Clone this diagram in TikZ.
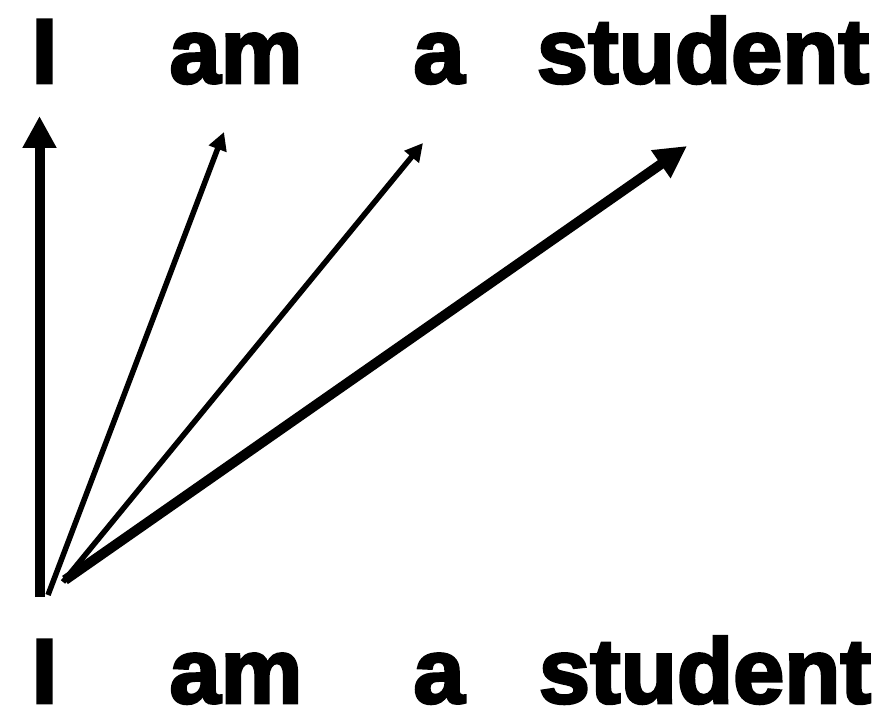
\documentclass[tikz,border=0pt]{standalone}
\usepackage{fontspec}
\setmainfont{Liberation Sans}
\newfontfamily\wordfont{Liberation Sans}[UprightFont=*-Bold,FakeBold=3]
\usetikzlibrary{arrows.meta}
\tikzset{
  word/.style={inner sep=0pt, anchor=base, font=\fontsize{92}{92}\wordfont},
  thickarrow/.style={line width=10pt, -{Triangle[length=32pt,width=32pt]}},
  thinarrow/.style={line width=5.5pt, -{Triangle[length=18pt,width=18pt]}}
}
\begin{document}
\begin{tikzpicture}[x=1pt,y=-1pt]
\useasboundingbox (0,0) rectangle (892,714);
% top words
\node[word] (tI) at (44.5,83) {I};
\node[word] (tam) at (236,83) {am};
\node[word] (ta) at (439,83) {a};
\node[word] (tst) at (703,83) {student};
% bottom words
\node[word] (bI) at (44.5,703) {I};
\node[word] (bam) at (236,703) {am};
\node[word] (ba) at (439,703) {a};
\node[word] (bst) at (705,703) {student};
% arrow ends
\coordinate (s1) at (39.5,597);
\coordinate (e1) at (39.5,116);
\coordinate (s2) at (48,595);
\coordinate (e2) at (224,132);
\coordinate (s3) at (63,582);
\coordinate (e3) at (423,143);
\coordinate (s4) at (65,580);
\coordinate (e4) at (687,146);
\draw[thickarrow] (s1) -- (e1);
\draw[thinarrow] (s2) -- (e2);
\draw[thinarrow] (s3) -- (e3);
\draw[thickarrow] (s4) -- (e4);
\end{tikzpicture}
\end{document}
